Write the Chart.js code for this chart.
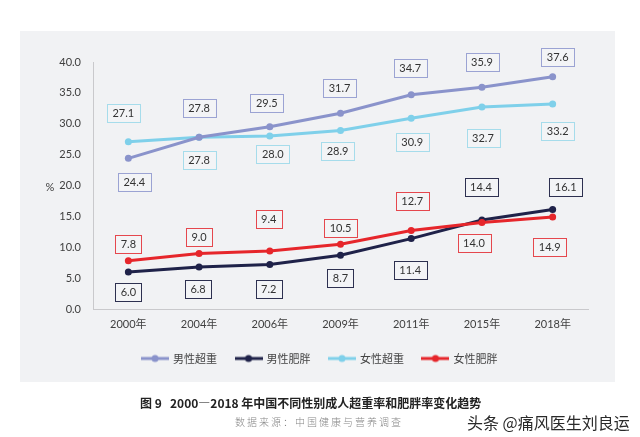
<!DOCTYPE html>
<html lang="zh">
<head>
  <meta charset="UTF-8">
  <title>2000—2018 超重率和肥胖率</title>
  <script src="https://cdn.jsdelivr.net/npm/chart.js"></script>
  <style>
    html, body { margin: 0; padding: 0; background: #fff; }
    #wrap { position: relative; width: 640px; height: 437px; overflow: hidden; }
    #chart { position: absolute; left: 0; top: 0; }
    .cap { position: absolute; white-space: nowrap; font-family: "Noto Sans CJK SC", sans-serif; }
    #title { left: 140px; top: 394px; font-size: 12px; font-weight: bold; color: #222; }
    #source { left: 235px; top: 414px; font-size: 10px; color: #888; letter-spacing: 2px; font-weight: 300; }
    #mark { left: 467px; top: 410px; font-size: 16px; color: #2a2a2a; text-shadow: 0 0 2px #fff, 0 0 2px #fff; }
  </style>
</head>
<body>
  <div id="wrap">
    <canvas id="chart" width="640" height="437"></canvas>
    <div class="cap" id="title">图 9&nbsp;&nbsp;&nbsp;2000—2018 年中国不同性别成人超重率和肥胖率变化趋势</div>
    <div class="cap" id="source">数据来源：中国健康与营养调查</div>
    <div class="cap" id="mark">头条 @痛风医生刘良运</div>
  </div>

  <script>
    // data
    const years = ['2000年', '2004年', '2006年', '2009年', '2011年', '2015年', '2018年'];
    const maleOverweight = [24.4, 27.8, 29.5, 31.7, 34.7, 35.9, 37.6];
    const maleObese = [6.0, 6.8, 7.2, 8.7, 11.4, 14.4, 16.1];
    const femaleOverweight = [27.1, 27.8, 28.0, 28.9, 30.9, 32.7, 33.2];
    const femaleObese = [7.8, 9.0, 9.4, 10.5, 12.7, 14.0, 14.9];
    const seriesNames = ['男性超重', '男性肥胖', '女性超重', '女性肥胖'];

    // where each boxed value sits relative to its point (px)
    const labelShift = [
      [[6, 24], [0, -29], [-3, -24], [-1, -25], [-1, -27], [0, -25], [5, -20]],
      [[0, 20], [-1, 22], [-1, 24], [0, 23], [-1, 31], [-1, -33], [13, -23]],
      [[-5, -29], [0, 23], [3, 18], [-3, 20], [1, 24], [1, 31], [5, 27]],
      [[0, -17], [0, -16], [-1, -32], [0, -16], [1, -30], [-8, 20], [-3, 30]]
    ];

    const lineColors = ['#8a93cb', '#1f2249', '#7fd0ea', '#e6262b'];
    const boxColors = ['#9ba3d3', '#2d3050', '#a6dceb', '#e5474d'];
    const numFont = "Lato, 'Noto Sans CJK SC', sans-serif";
    const cjkFont = "'Noto Sans CJK SC', sans-serif";

    // legend icon: short line with a dot in the middle
    function legendIcon(color) {
      const c = document.createElement('canvas');
      c.width = 28; c.height = 10;
      const g = c.getContext('2d');
      g.strokeStyle = color; g.lineWidth = 3;
      g.beginPath(); g.moveTo(0, 5); g.lineTo(28, 5); g.stroke();
      g.fillStyle = color;
      g.beginPath(); g.arc(14, 5, 3.5, 0, Math.PI * 2); g.fill();
      return c;
    }
    const icons = lineColors.map(legendIcon);

    const panelBg = {
      id: 'panelBg',
      beforeDraw(chart) {
        const ctx = chart.ctx;
        ctx.save();
        ctx.fillStyle = '#f1f2f4';
        ctx.fillRect(20, 31, 595, 351);
        ctx.fillStyle = '#404040';
        ctx.font = '11px ' + numFont;
        ctx.textAlign = 'center';
        ctx.textBaseline = 'middle';
        ctx.fillText('%', 50, 187);
        ctx.restore();
      }
    };

    const boxedLabels = {
      id: 'boxedLabels',
      afterDatasetsDraw(chart) {
        const ctx = chart.ctx;
        ctx.save();
        ctx.font = '11px ' + numFont;
        ctx.textAlign = 'center';
        ctx.textBaseline = 'middle';
        chart.data.datasets.forEach((ds, di) => {
          const meta = chart.getDatasetMeta(di);
          meta.data.forEach((pt, i) => {
            const txt = ds.data[i].toFixed(1);
            const cx = pt.x + labelShift[di][i][0];
            const cy = pt.y + labelShift[di][i][1];
            const w = ctx.measureText(txt).width + 11;
            const h = 18;
            ctx.fillStyle = '#f3f4f6';
            ctx.fillRect(cx - w / 2, cy - h / 2, w, h);
            ctx.strokeStyle = boxColors[di];
            ctx.lineWidth = 1;
            ctx.strokeRect(Math.round(cx - w / 2) + 0.5, Math.round(cy - h / 2) + 0.5, Math.round(w), h);
            ctx.fillStyle = '#333';
            ctx.fillText(txt, cx, cy + 0.5);
          });
        });
        ctx.restore();
      }
    };

    const seriesData = [maleOverweight, maleObese, femaleOverweight, femaleObese];

    new Chart(document.getElementById('chart'), {
      type: 'line',
      data: {
        labels: years,
        datasets: seriesData.map((d, i) => ({
          label: seriesNames[i],
          data: d,
          borderColor: lineColors[i],
          backgroundColor: lineColors[i],
          borderWidth: 3,
          pointRadius: 3.5,
          pointBorderWidth: 0,
          pointBackgroundColor: lineColors[i],
          tension: 0,
          order: i === 3 ? 0 : 1
        }))
      },
      plugins: [panelBg, boxedLabels],
      options: {
        responsive: false,
        animation: false,
        layout: { padding: { left: 52, right: 52, top: 62, bottom: 63 } },
        plugins: {
          tooltip: { enabled: false },
          legend: {
            position: 'bottom',
            labels: {
              usePointStyle: true,
              pointStyleWidth: 25,
              padding: 19,
              color: '#444',
              font: { size: 11, family: cjkFont },
              sort: (a, b) => a.datasetIndex - b.datasetIndex,
              generateLabels(chart) {
                const items = Chart.defaults.plugins.legend.labels.generateLabels(chart);
                items.forEach(it => { it.pointStyle = icons[it.datasetIndex]; });
                return items;
              }
            }
          }
        },
        scales: {
          x: {
            offset: true,
            grid: { display: false, drawTicks: false, offset: true },
            border: { display: true, color: '#c9c9cc', width: 1 },
            ticks: { color: '#404040', padding: 9, font: { size: 11, family: numFont } },
            afterFit(s) { s.height = 25; }
          },
          y: {
            min: 0,
            max: 40,
            grid: { display: false, drawTicks: false },
            border: { display: true, color: '#c9c9cc', width: 1 },
            ticks: {
              stepSize: 5,
              padding: 12,
              color: '#404040',
              font: { size: 11, family: numFont },
              callback: v => v.toFixed(1)
            },
            afterFit(s) { s.width = 41; }
          }
        }
      }
    });
  </script>
</body>
</html>
